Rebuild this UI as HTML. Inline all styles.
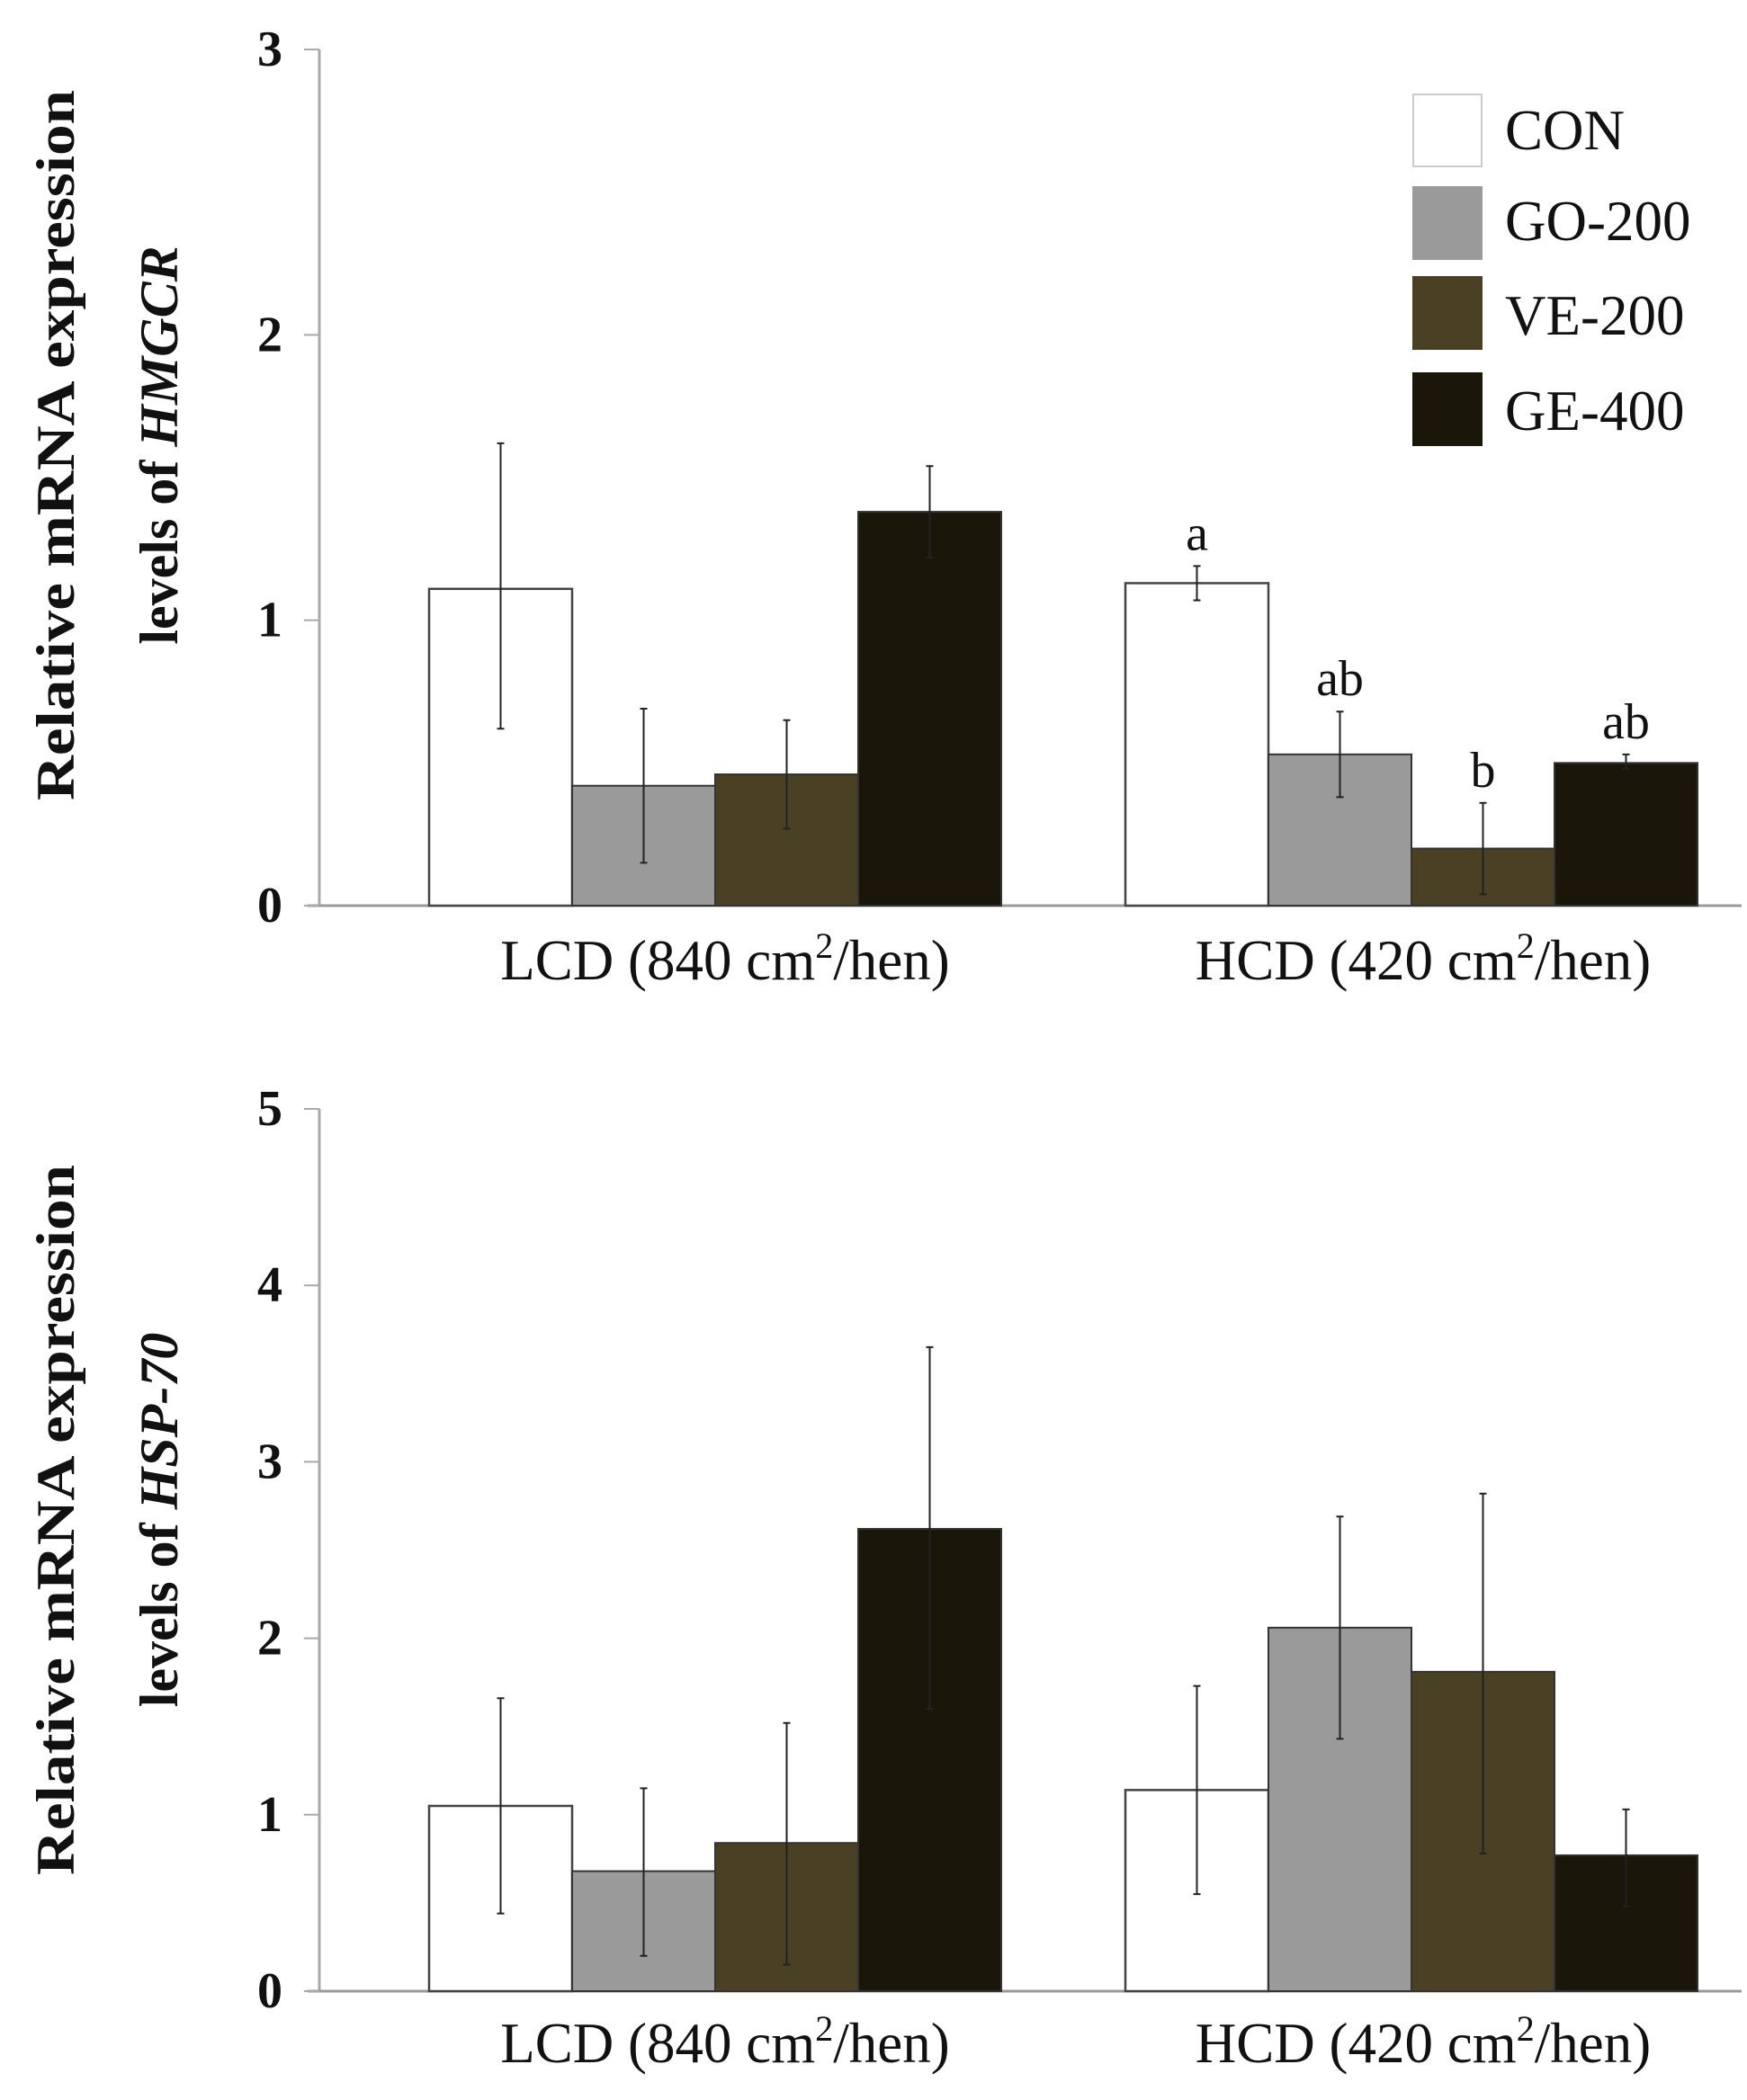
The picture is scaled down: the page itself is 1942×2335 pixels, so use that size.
<!DOCTYPE html>
<html><head><meta charset="utf-8"><style>
html,body{margin:0;padding:0;background:#fff;}
svg{display:block;font-family:"Liberation Serif",serif;}
</style></head><body>
<svg id="fig" width="1942" height="2335" viewBox="0 0 1942 2335"></svg>
<script>
const series = ["CON","GO-200","VE-200","GE-400"];
const groups = ["LCD (840 cm²/hen)","HCD (420 cm²/hen)"];
const colors = ["#ffffff","#9a9a9a","#4a4023","#1a170a"];
// Top chart: HMGCR
const hmgcrMean = [[1.11,0.42,0.46,1.38],[1.13,0.53,0.20,0.50]];
const hmgcrLow  = [[0.62,0.15,0.27,1.22],[1.07,0.38,0.04,0.48]];
const hmgcrHigh = [[1.62,0.69,0.65,1.54],[1.19,0.68,0.36,0.53]];
const hmgcrLetters = [["","","",""],["a","ab","b","ab"]];
const hmgcrTicks = [0,1,2,3];
// Bottom chart: HSP-70
const hspMean = [[1.05,0.68,0.84,2.62],[1.14,2.06,1.81,0.77]];
const hspLow  = [[0.44,0.20,0.15,1.60],[0.55,1.43,0.78,0.48]];
const hspHigh = [[1.66,1.15,1.52,3.65],[1.73,2.69,2.82,1.03]];
const hspTicks = [0,1,2,3,4,5];

const NS="http://www.w3.org/2000/svg";
const svg=document.getElementById('fig');
function mk(tag,attrs,parent,text){const e=document.createElementNS(NS,tag);for(const k in attrs)e.setAttribute(k,attrs[k]);if(text!==undefined)e.textContent=text;(parent||svg).appendChild(e);return e;}

function chart(cfg){
  const g=mk('g',{});
  
  
  const ax=355, y0=cfg.y0, yTop=cfg.yTop, maxV=cfg.ticks[cfg.ticks.length-1];
  const y=v=>y0-(v/maxV)*(y0-yTop);
  const groupStart=[477,1251], bw=159;
  const xa=mk('line',{x1:ax,y1:yTop,x2:ax,y2:y0,stroke:'#aaa','stroke-width':3},g);
  
  
  const xl=mk('line',{x1:342,y1:y0,x2:1936,y2:y0,stroke:'#999','stroke-width':3},g);
  
  
  cfg.ticks.forEach(t=>{
    const tk=mk('line',{x1:338,y1:y(t),x2:ax,y2:y(t),stroke:'#aaa','stroke-width':2},g);
    
    
    const tl=mk('text',{x:300,y:y(t)+18,'text-anchor':'middle','font-size':56,'font-weight':'bold',fill:'#111'},g,String(t));
    
    
  });
  groups.forEach((gn,gi)=>{
    series.forEach((s,si)=>{
      const x=groupStart[gi]+si*bw, v=cfg.mean[gi][si];
      const r=mk('rect',{x:x,y:y(v),width:bw,height:y0-y(v),fill:colors[si],stroke:si===0?'#444':'#333','stroke-width':si===0?2.5:2},g);
      
      
      const cx=x+bw/2, yl=y(cfg.low[gi][si]), yh=y(cfg.high[gi][si]);
      const eb=mk('path',{d:`M${cx},${yh}V${yl}M${cx-4},${yh}H${cx+4}M${cx-4},${yl}H${cx+4}`,stroke:'#222','stroke-width':2,fill:'none'},g);
      
      
      if(cfg.letters&&cfg.letters[gi][si]){
        const lt=mk('text',{x:cx,y:yh-18,'text-anchor':'middle','font-size':56,fill:'#111'},g,cfg.letters[gi][si]);
        
        
      }
    });
    const parts=gn.split('²');
    const gl=mk('text',{x:gi?1582:806,y:cfg.labelY,'text-anchor':'middle','font-size':63,fill:'#111'},g);
    
    
    mk('tspan',{},gl,parts[0]);
    mk('tspan',{dy:-24,'font-size':40},gl,'2');
    mk('tspan',{dy:24},gl,parts[1]);
  });
  const tt=mk('text',{transform:`translate(82,${cfg.titleY}) rotate(-90)`,'text-anchor':'middle','font-size':60,'font-weight':'bold',fill:'#111',textLength:790,lengthAdjust:'spacingAndGlyphs'},g,'Relative mRNA expression');
  
  
  const t2=mk('text',{transform:`translate(197,${cfg.titleY}) rotate(-90)`,'text-anchor':'middle','font-size':60,'font-weight':'bold',fill:'#111'},g);
  
  
  mk('tspan',{},t2,'levels of ');
  mk('tspan',{'font-style':'italic'},t2,cfg.gene);
}
chart({name:'hmgcr-chart',y0:1007,yTop:55,ticks:hmgcrTicks,mean:hmgcrMean,low:hmgcrLow,high:hmgcrHigh,letters:hmgcrLetters,labelY:1089,titleY:495,gene:'HMGCR'});
chart({name:'hsp70-chart',y0:2214,yTop:1233,ticks:hspTicks,mean:hspMean,low:hspLow,high:hspHigh,letters:null,labelY:2293,titleY:1690,gene:'HSP-70'});

// legend
const legBase=[166,267,372,478];
const legY=[105,208,308,415];
series.forEach((s,i)=>{
  const r=mk('rect',{x:1571,y:legY[i],width:76,height:80,fill:colors[i],stroke:i===0?'#ccc':colors[i],'stroke-width':2});
  
  
  const t=mk('text',{x:1673,y:legBase[i],'font-size':63,fill:'#111'},svg,s);
  
  
});
</script>
</body></html>
